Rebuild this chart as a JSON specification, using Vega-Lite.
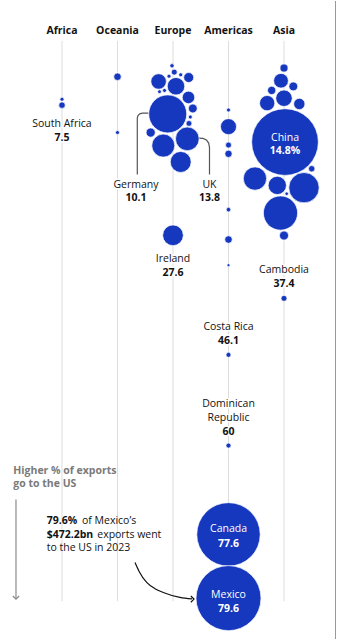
{
  "$schema": "https://vega.github.io/schema/vega-lite/v6.json",
  "width": 338,
  "height": 640,
  "autosize": {"type": "fit", "contains": "padding"},
  "padding": 0,
  "background": "white",
  "config": {"view": {"stroke": null}, "font": "Open Sans"},
  "datasets": {
    "cols": [
      {"continent": "Africa", "x": 0, "y": -1.98, "y2": 83.82},
      {"continent": "Oceania", "x": 1, "y": -1.98, "y2": 83.82},
      {"continent": "Europe", "x": 2, "y": -1.98, "y2": 83.82},
      {"continent": "Americas", "x": 3, "y": -1.98, "y2": 83.82},
      {"continent": "Asia", "x": 4, "y": -1.98, "y2": 83.82}
    ],
    "border": [{"x": 4.928, "y": -8.092, "y2": 89.618}],
    "countries": [
      {"continent": "Africa", "name": "", "x": 0, "y": 6.95, "v": 1.8},
      {"continent": "Africa", "name": "South Africa", "x": 0, "y": 7.86, "v": 4.7},
      {"continent": "Oceania", "name": "", "x": 1, "y": 3.51, "v": 6.3},
      {"continent": "Oceania", "name": "", "x": 1, "y": 12.06, "v": 1.8},
      {"continent": "Europe", "name": "", "x": 1.982, "y": 1.83, "v": 2.1},
      {"continent": "Europe", "name": "", "x": 2.023, "y": 2.8, "v": 4.0},
      {"continent": "Europe", "name": "", "x": 1.928, "y": 3.42, "v": 1.8},
      {"continent": "Europe", "name": "", "x": 2.139, "y": 3.21, "v": 1.8},
      {"continent": "Europe", "name": "", "x": 1.741, "y": 4.23, "v": 26.9},
      {"continent": "Europe", "name": "", "x": 2.054, "y": 4.96, "v": 34.2},
      {"continent": "Europe", "name": "", "x": 2.283, "y": 3.63, "v": 11.2},
      {"continent": "Europe", "name": "", "x": 1.757, "y": 5.8, "v": 1.6},
      {"continent": "Europe", "name": "", "x": 1.847, "y": 5.6, "v": 1.8},
      {"continent": "Europe", "name": "", "x": 2.279, "y": 6.67, "v": 17.5},
      {"continent": "Europe", "name": "Germany", "x": 1.905, "y": 9.2, "v": 161.4},
      {"continent": "Europe", "name": "", "x": 2.357, "y": 8.37, "v": 8.7},
      {"continent": "Europe", "name": "", "x": 2.312, "y": 9.67, "v": 1.8},
      {"continent": "Europe", "name": "", "x": 2.288, "y": 10.66, "v": 3.8},
      {"continent": "Europe", "name": "", "x": 1.598, "y": 12.06, "v": 9.4},
      {"continent": "Europe", "name": "", "x": 1.825, "y": 14.05, "v": 59},
      {"continent": "Europe", "name": "UK", "x": 2.258, "y": 13.02, "v": 62.5},
      {"continent": "Europe", "name": "", "x": 2.139, "y": 16.56, "v": 49},
      {"continent": "Europe", "name": "Ireland", "x": 2, "y": 27.79, "v": 47.9},
      {"continent": "Americas", "name": "", "x": 3, "y": 8.6, "v": 1.8},
      {"continent": "Americas", "name": "", "x": 3, "y": 11.15, "v": 28.6},
      {"continent": "Americas", "name": "", "x": 3, "y": 13.97, "v": 4.0},
      {"continent": "Americas", "name": "", "x": 3, "y": 15.31, "v": 6.0},
      {"continent": "Americas", "name": "", "x": 3, "y": 23.86, "v": 2.3},
      {"continent": "Americas", "name": "", "x": 3, "y": 28.44, "v": 6.3},
      {"continent": "Americas", "name": "", "x": 3, "y": 32.37, "v": 1.0},
      {"continent": "Americas", "name": "Costa Rica", "x": 3, "y": 46.1, "v": 2.8},
      {"continent": "Americas", "name": "Dominican Republic", "x": 3, "y": 60.0, "v": 2.8},
      {"continent": "Americas", "name": "Canada", "x": 3, "y": 73.6, "v": 450},
      {"continent": "Americas", "name": "Mexico", "x": 3, "y": 83.36, "v": 472.2},
      {"continent": "Asia", "name": "", "x": 4.0, "y": 2.18, "v": 7.2},
      {"continent": "Asia", "name": "", "x": 3.946, "y": 4.12, "v": 24.2},
      {"continent": "Asia", "name": "", "x": 3.778, "y": 5.6, "v": 7.7},
      {"continent": "Asia", "name": "", "x": 4.168, "y": 4.99, "v": 8.8},
      {"continent": "Asia", "name": "", "x": 4.0, "y": 6.8, "v": 30.4},
      {"continent": "Asia", "name": "", "x": 3.697, "y": 7.55, "v": 26.2},
      {"continent": "Asia", "name": "", "x": 4.276, "y": 7.68, "v": 14.3},
      {"continent": "Asia", "name": "China", "x": 4.018, "y": 13.51, "v": 497},
      {"continent": "Asia", "name": "", "x": 3.477, "y": 19.1, "v": 60.7},
      {"continent": "Asia", "name": "", "x": 3.879, "y": 20.15, "v": 37.4},
      {"continent": "Asia", "name": "", "x": 4.499, "y": 17.6, "v": 4.6},
      {"continent": "Asia", "name": "", "x": 4.36, "y": 20.5, "v": 103},
      {"continent": "Asia", "name": "", "x": 4.049, "y": 21.42, "v": 1.4},
      {"continent": "Asia", "name": "", "x": 3.937, "y": 24.38, "v": 131},
      {"continent": "Asia", "name": "", "x": 4.0, "y": 27.83, "v": 9.1},
      {"continent": "Asia", "name": "Cambodia", "x": 4.0, "y": 37.45, "v": 4.0}
    ],
    "brackets": [
      {"grp": "Germany", "ord": 1, "x": 1.5586, "y": 9.084},
      {"grp": "Germany", "ord": 2, "x": 1.4468, "y": 9.084},
      {"grp": "Germany", "ord": 3, "x": 1.4018, "y": 9.191},
      {"grp": "Germany", "ord": 4, "x": 1.3694, "y": 9.466},
      {"grp": "Germany", "ord": 5, "x": 1.3568, "y": 9.847},
      {"grp": "Germany", "ord": 6, "x": 1.3568, "y": 18.473},
      {"grp": "UK", "ord": 1, "x": 2.4505, "y": 12.901},
      {"grp": "UK", "ord": 2, "x": 2.5405, "y": 12.947},
      {"grp": "UK", "ord": 3, "x": 2.6036, "y": 13.206},
      {"grp": "UK", "ord": 4, "x": 2.6432, "y": 13.664},
      {"grp": "UK", "ord": 5, "x": 2.6577, "y": 14.351},
      {"grp": "UK", "ord": 6, "x": 2.6577, "y": 18.473}
    ],
    "arrow": [
      {"ord": 1, "x": 1.3153, "y": 77.91},
      {"ord": 2, "x": 1.3874, "y": 79.24},
      {"ord": 3, "x": 1.5261, "y": 80.96},
      {"ord": 4, "x": 1.6757, "y": 81.91},
      {"ord": 5, "x": 1.8252, "y": 82.49},
      {"ord": 6, "x": 2.1261, "y": 83.25},
      {"ord": 7, "x": 2.3423, "y": 83.48}
    ],
    "arrowhead": [{"x": 2.3784, "y": 83.51}],
    "scaleArrow": [{"x": -0.829, "y": 68.24, "y2": 83.4}],
    "scaleHead": [{"x": -0.829, "y": 83.51}],
    "labels": [
      {"kind": "header", "text": "Africa", "x": 0, "y": -3.51},
      {"kind": "header", "text": "Oceania", "x": 1, "y": -3.51},
      {"kind": "header", "text": "Europe", "x": 2, "y": -3.51},
      {"kind": "header", "text": "Americas", "x": 3, "y": -3.51},
      {"kind": "header", "text": "Asia", "x": 4, "y": -3.51},
      {"kind": "name", "text": "South Africa", "x": 0, "y": 10.69},
      {"kind": "name", "text": "Germany", "x": 1.333, "y": 20.05},
      {"kind": "name", "text": "UK", "x": 2.658, "y": 20.05},
      {"kind": "name", "text": "Ireland", "x": 2, "y": 31.45},
      {"kind": "name", "text": "Cambodia", "x": 4, "y": 33.13},
      {"kind": "name", "text": "Costa Rica", "x": 3, "y": 41.88},
      {"kind": "name", "text": "Dominican", "x": 3, "y": 53.59},
      {"kind": "name", "text": "Republic", "x": 3, "y": 55.73},
      {"kind": "value", "text": "7.5", "x": 0, "y": 12.82},
      {"kind": "value", "text": "10.1", "x": 1.333, "y": 22.14},
      {"kind": "value", "text": "13.8", "x": 2.658, "y": 22.14},
      {"kind": "value", "text": "27.6", "x": 2, "y": 33.59},
      {"kind": "value", "text": "37.4", "x": 4, "y": 35.27},
      {"kind": "value", "text": "46.1", "x": 3, "y": 44.02},
      {"kind": "value", "text": "60", "x": 3, "y": 57.86},
      {"kind": "inName", "text": "China", "x": 4.018, "y": 12.82},
      {"kind": "inName", "text": "Canada", "x": 3, "y": 72.82},
      {"kind": "inName", "text": "Mexico", "x": 3, "y": 82.82},
      {"kind": "inValue", "text": "14.8%", "x": 4.018, "y": 14.89},
      {"kind": "inValue", "text": "77.6", "x": 3, "y": 75.11},
      {"kind": "inValue", "text": "79.6", "x": 3, "y": 85.04},
      {"kind": "scale", "text": "Higher % of exports", "x": -0.877, "y": 63.92},
      {"kind": "scale", "text": "go to the US", "x": -0.877, "y": 65.95},
      {"kind": "noteBold", "text": "79.6%", "x": -0.276, "y": 71.56},
      {"kind": "noteBold", "text": "$472.2bn", "x": -0.276, "y": 73.69},
      {"kind": "note", "text": "of Mexico’s", "x": 0.36, "y": 71.56},
      {"kind": "note", "text": "exports went", "x": 0.635, "y": 73.69},
      {"kind": "note", "text": "to the US in 2023", "x": -0.276, "y": 75.73}
    ]
  },
  "encoding": {
    "x": {"field": "x", "type": "quantitative", "scale": {"domain": [-1.117, 4.973], "nice": false, "zero": false}, "axis": null},
    "y": {"field": "y", "type": "quantitative", "scale": {"domain": [-8.092, 89.618], "nice": false, "zero": false, "reverse": true}, "axis": null}
  },
  "layer": [
    {"data": {"name": "cols"}, "mark": {"type": "rule", "color": "#dddddd", "strokeWidth": 1}, "encoding": {"y2": {"field": "y2"}}},
    {"data": {"name": "border"}, "mark": {"type": "rule", "color": "#999999", "strokeWidth": 1}, "encoding": {"y2": {"field": "y2"}}},
    {"data": {"name": "brackets"}, "mark": {"type": "line", "color": "#555555", "strokeWidth": 1.2}, "encoding": {"detail": {"field": "grp"}, "order": {"field": "ord", "type": "quantitative"}}},
    {"data": {"name": "arrow"}, "mark": {"type": "line", "color": "#121212", "strokeWidth": 1.2, "interpolate": "monotone"}, "encoding": {"order": {"field": "ord", "type": "quantitative"}}},
    {"data": {"name": "arrowhead"}, "mark": {"type": "point", "shape": "M-1,-1L0,0L-1,1", "filled": false, "size": 40, "color": "#121212", "strokeWidth": 1.2, "opacity": 1}, "encoding": {}},
    {"data": {"name": "scaleArrow"}, "mark": {"type": "rule", "color": "#8a8a8a", "strokeWidth": 1.2}, "encoding": {"y2": {"field": "y2"}}},
    {"data": {"name": "scaleHead"}, "mark": {"type": "point", "shape": "M-1,-1L0,0L1,-1", "filled": false, "size": 40, "color": "#8a8a8a", "strokeWidth": 1.2, "opacity": 1}, "encoding": {}},
    {"data": {"name": "countries"}, "mark": {"type": "circle", "color": "#1638be", "opacity": 1, "stroke": "white", "strokeWidth": 0.7},
     "encoding": {"size": {"field": "v", "type": "quantitative", "scale": {"type": "linear", "domain": [0, 500], "range": [0, 4474]}, "legend": null}}},
    {"data": {"name": "labels"}, "transform": [{"filter": "datum.kind === 'name'"}], "mark": {"type": "text", "fontSize": 10.5, "color": "white", "stroke": "white", "strokeWidth": 3, "strokeJoin": "round", "baseline": "middle", "align": "center"}, "encoding": {"text": {"field": "text"}}},
    {"data": {"name": "labels"}, "transform": [{"filter": "datum.kind === 'value'"}], "mark": {"type": "text", "fontSize": 10.5, "fontWeight": "bold", "color": "white", "stroke": "white", "strokeWidth": 3, "strokeJoin": "round", "baseline": "middle", "align": "center"}, "encoding": {"text": {"field": "text"}}},
    {"data": {"name": "labels"}, "transform": [{"filter": "datum.kind === 'header'"}], "mark": {"type": "text", "fontSize": 10.5, "fontWeight": "bold", "color": "#121212", "baseline": "middle", "align": "center"}, "encoding": {"text": {"field": "text"}}},
    {"data": {"name": "labels"}, "transform": [{"filter": "datum.kind === 'name'"}], "mark": {"type": "text", "fontSize": 10.5, "color": "#121212", "baseline": "middle", "align": "center"}, "encoding": {"text": {"field": "text"}}},
    {"data": {"name": "labels"}, "transform": [{"filter": "datum.kind === 'value'"}], "mark": {"type": "text", "fontSize": 10.5, "fontWeight": "bold", "color": "#121212", "baseline": "middle", "align": "center"}, "encoding": {"text": {"field": "text"}}},
    {"data": {"name": "labels"}, "transform": [{"filter": "datum.kind === 'inName'"}], "mark": {"type": "text", "fontSize": 10.5, "color": "white", "baseline": "middle", "align": "center"}, "encoding": {"text": {"field": "text"}}},
    {"data": {"name": "labels"}, "transform": [{"filter": "datum.kind === 'inValue'"}], "mark": {"type": "text", "fontSize": 10.5, "fontWeight": "bold", "color": "white", "baseline": "middle", "align": "center"}, "encoding": {"text": {"field": "text"}}},
    {"data": {"name": "labels"}, "transform": [{"filter": "datum.kind === 'scale'"}], "mark": {"type": "text", "fontSize": 10.5, "fontWeight": "bold", "color": "#7a7a7a", "baseline": "middle", "align": "left"}, "encoding": {"text": {"field": "text"}}},
    {"data": {"name": "labels"}, "transform": [{"filter": "datum.kind === 'noteBold'"}], "mark": {"type": "text", "fontSize": 10.5, "fontWeight": "bold", "color": "#121212", "baseline": "middle", "align": "left"}, "encoding": {"text": {"field": "text"}}},
    {"data": {"name": "labels"}, "transform": [{"filter": "datum.kind === 'note'"}], "mark": {"type": "text", "fontSize": 10.5, "color": "#121212", "baseline": "middle", "align": "left"}, "encoding": {"text": {"field": "text"}}}
  ]
}
